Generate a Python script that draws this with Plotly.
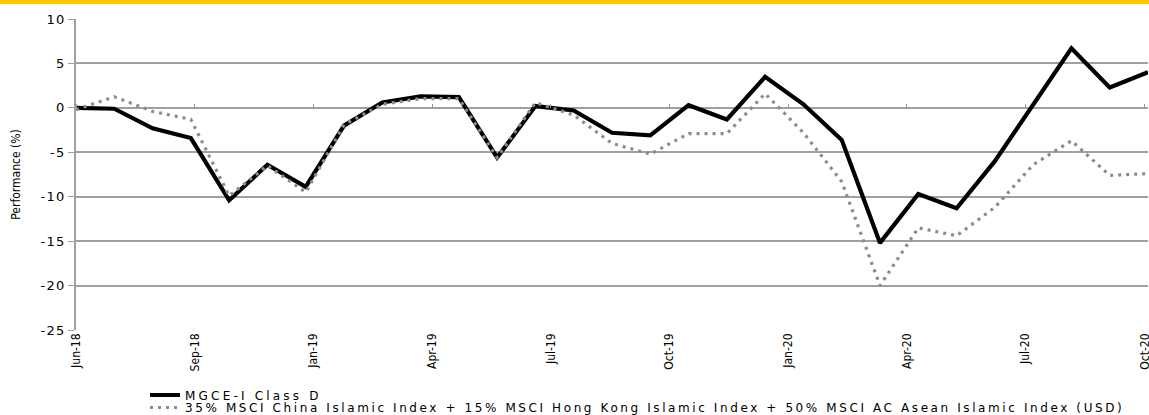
import plotly.graph_objects as go

# ---- data ----
months_idx = list(range(29))
fund_name = "MGCE-I Class D"
bench_name = "35% MSCI China Islamic Index + 15% MSCI Hong Kong Islamic Index + 50% MSCI AC Asean Islamic Index (USD)"
fund = [0.0, -0.1, -2.3, -3.4, -10.4, -6.4, -8.9, -2.0, 0.6, 1.3, 1.2, -5.6, 0.2, -0.3,
        -2.8, -3.1, 0.3, -1.3, 3.5, 0.4, -3.6, -15.2, -9.7, -11.3, -6.0, 0.3, 6.7, 2.3, 4.0]
bench = [-0.2, 1.25, -0.4, -1.3, -9.9, -6.5, -9.5, -1.9, 0.4, 1.05, 1.05, -5.6, 0.6, -0.8,
         -4.0, -5.2, -2.9, -2.9, 1.6, -2.8, -8.3, -20.0, -13.5, -14.4, -11.2, -6.4, -3.7, -7.6, -7.4]
tick_labels = ["Jun-18", "Sep-18", "Jan-19", "Apr-19", "Jul-19", "Oct-19", "Jan-20", "Apr-20", "Jul-20", "Oct-20"]
tick_pos = [0, 3.1, 6.2, 9.3, 12.4, 15.5, 18.6, 21.7, 24.8, 27.92]
y_ticks = [10, 5, 0, -5, -10, -15, -20, -25]

narrow = "Liberation Sans Narrow, Arial Narrow, DejaVu Sans Condensed, Liberation Sans"
wide = "DejaVu Sans, Verdana, sans-serif"


def spaced(s, px):
    return '<span style="letter-spacing:%spx">%s</span>' % (px, s)


fig = go.Figure()
fig.add_trace(go.Scatter(x=months_idx, y=fund, mode="lines", name=spaced(fund_name, 3.2),
                         line=dict(color="black", width=4.2), legend="legend"))
fig.add_trace(go.Scatter(x=months_idx, y=bench, mode="lines", name=spaced(bench_name, 2.6),
                         line=dict(color="#8c8c8c", width=3.2, dash="3px,5px"), legend="legend2"))
# helper invisible trace for the zero-line tick axis
fig.add_trace(go.Scatter(x=[months_idx[0], months_idx[-1]], y=[0, 0], xaxis="x2", yaxis="y",
                         mode="lines", line=dict(width=0), showlegend=False, hoverinfo="skip"))

leg_common = dict(xanchor="left", yanchor="middle", font=dict(family=wide, size=12, color="black"),
                  bgcolor="rgba(0,0,0,0)", borderwidth=0)

fig.update_layout(
    width=1149, height=415,
    margin=dict(l=76, r=1, t=19, b=85, autoexpand=False),
    paper_bgcolor="white", plot_bgcolor="white",
    showlegend=True,
    legend=dict(x=(145 - 76) / 1072, y=(330 - 395) / 311, **leg_common),
    legend2=dict(x=(145 - 76) / 1072, y=(330 - 407.5) / 311, **leg_common),
    xaxis=dict(range=[0, 28], tickmode="array", tickvals=tick_pos, ticktext=tick_labels,
               tickangle=-90, tickfont=dict(family=narrow, size=12, color="black"),
               ticklabeloverflow="allow",
               showgrid=False, zeroline=False, showline=False, ticks="", automargin=False),
    xaxis2=dict(range=[0, 28], overlaying="x", anchor="free", position=25/35, side="top",
                tickmode="array", tickvals=tick_pos, showticklabels=False,
                ticks="outside", ticklen=4, tickcolor="#999999", tickwidth=1,
                showgrid=False, zeroline=False, showline=False),
    yaxis=dict(range=[-25, 10], tickmode="array", tickvals=y_ticks,
               ticktext=[spaced(str(v), 1.2) for v in y_ticks],
               tickfont=dict(family=wide, size=13, color="black"),
               showgrid=True, gridcolor="#a0a0a0", gridwidth=1.5,
               zeroline=False, showline=True, linecolor="#a0a0a0", linewidth=2,
               ticks="outside", ticklen=6, tickcolor="#a0a0a0", automargin=False,
               title=dict(text="Performance (%)", font=dict(family=narrow, size=12, color="black"),
                          standoff=17)),
    shapes=[dict(type="rect", xref="paper", yref="paper", x0=-0.1, x1=1.1,
                 y0=(330 - 4) / 311, y1=(330 + 10) / 311, fillcolor="#FFC800", line=dict(width=0),
                 layer="above")],
)

fig.write_html("out.html", config={"displayModeBar": False},
               post_script="document.body.style.margin='0';document.body.style.padding='0';")
